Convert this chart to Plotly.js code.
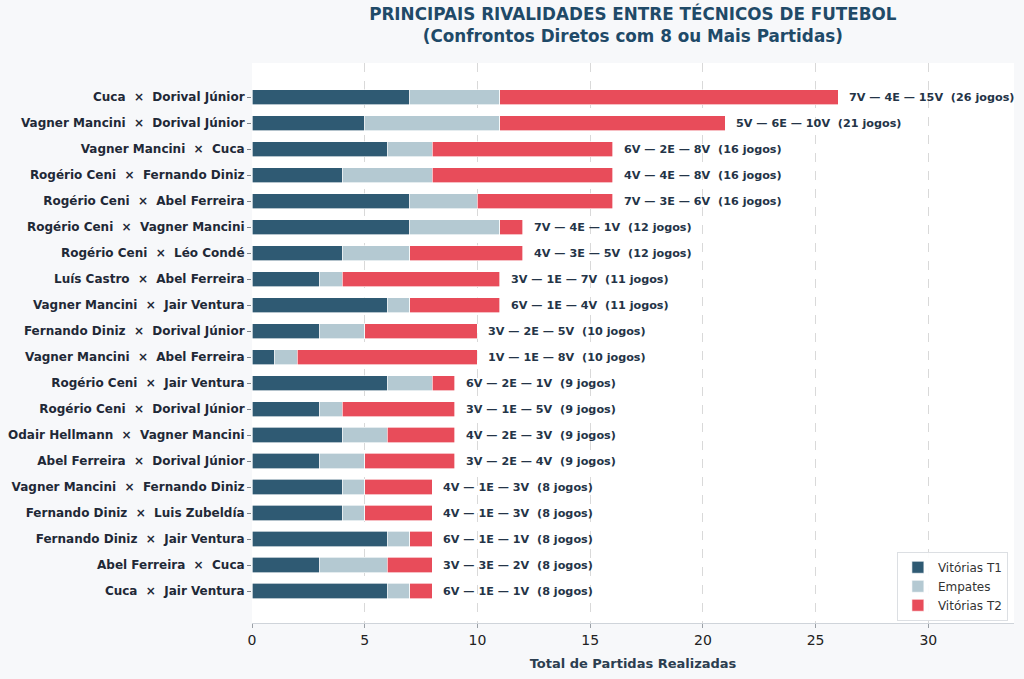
<!DOCTYPE html>
<html>
<head>
<meta charset="utf-8">
<script src="https://cdn.plot.ly/plotly-3.0.1.min.js"></script>
<style>
  body { margin: 0; background: #f7f8fa; }
  #graph { width: 1024px; height: 679px; }
</style>
</head>
<body>
<div id="graph"></div>
<script>
let rivalries = [
    "Cuca  ×  Dorival Júnior",
    "Vagner Mancini  ×  Dorival Júnior",
    "Vagner Mancini  ×  Cuca",
    "Rogério Ceni  ×  Fernando Diniz",
    "Rogério Ceni  ×  Abel Ferreira",
    "Rogério Ceni  ×  Vagner Mancini",
    "Rogério Ceni  ×  Léo Condé",
    "Luís Castro  ×  Abel Ferreira",
    "Vagner Mancini  ×  Jair Ventura",
    "Fernando Diniz  ×  Dorival Júnior",
    "Vagner Mancini  ×  Abel Ferreira",
    "Rogério Ceni  ×  Jair Ventura",
    "Rogério Ceni  ×  Dorival Júnior",
    "Odair Hellmann  ×  Vagner Mancini",
    "Abel Ferreira  ×  Dorival Júnior",
    "Vagner Mancini  ×  Fernando Diniz",
    "Fernando Diniz  ×  Luis Zubeldía",
    "Fernando Diniz  ×  Jair Ventura",
    "Abel Ferreira  ×  Cuca",
    "Cuca  ×  Jair Ventura"
];
let winsT1 = [7, 5, 6, 4, 7, 7, 4, 3, 6, 3, 1, 6, 3, 4, 3, 4, 4, 6, 3, 6];
let draws  = [4, 6, 2, 4, 3, 4, 3, 1, 1, 2, 1, 2, 1, 2, 2, 1, 1, 1, 3, 1];
let winsT2 = [15, 10, 8, 8, 6, 1, 5, 7, 4, 5, 8, 1, 5, 3, 4, 3, 3, 1, 2, 1];

// keep the double spaces around the ×
let labels = rivalries.map(s => s.replace(/ /g, "\u00a0"));

function plot() {
    let edge = { color: "rgba(255,255,255,0.8)", width: 0.8 };

    let t1 = {
        y: labels, x: winsT1,
        type: "bar", orientation: "h",
        name: "Vitórias T1",
        width: 0.58,
        marker: { color: "#2f5a73", line: edge },
        hoverinfo: "x+y"
    };
    let emp = {
        y: labels, x: draws,
        type: "bar", orientation: "h",
        name: "Empates",
        width: 0.58,
        marker: { color: "#b4c9d2", line: edge },
        hoverinfo: "x+y"
    };
    let t2 = {
        y: labels, x: winsT2,
        type: "bar", orientation: "h",
        name: "Vitórias T2",
        width: 0.58,
        marker: { color: "#e84c5a", line: edge },
        hoverinfo: "x+y"
    };

    let notes = labels.map((lab, i) => {
        let total = winsT1[i] + draws[i] + winsT2[i];
        return {
            x: total + 0.4, y: lab,
            xref: "x", yref: "y",
            text: winsT1[i] + "V — " + draws[i] + "E — " + winsT2[i] + "V\u00a0\u00a0(" + total + " jogos)",
            showarrow: false,
            xanchor: "left", yanchor: "middle",
            font: { family: "DejaVu Sans", size: 11.2, color: "#243447", weight: "bold" }
        };
    });

    let layout = {
        width: 1024, height: 679,
        paper_bgcolor: "#f7f8fa",
        plot_bgcolor: "#ffffff",
        barmode: "stack",
        margin: { l: 252, r: 10, t: 63, b: 56 },
        font: { family: "DejaVu Sans", color: "#222" },
        title: {
            text: "<b>PRINCIPAIS RIVALIDADES ENTRE TÉCNICOS DE FUTEBOL<br>(Confrontos Diretos com 8 ou Mais Partidas)</b>",
            font: { family: "DejaVu Sans", size: 16.8, color: "#1f4a68" },
            x: 0.618, xanchor: "center",
            y: 0.97, yanchor: "top"
        },
        xaxis: {
            range: [0, 33.8],
            tickvals: [0, 5, 10, 15, 20, 25, 30],
            showgrid: true,
            gridcolor: "rgba(0,0,0,0.15)",
            griddash: "dash",
            gridwidth: 1,
            layer: "above traces",
            zeroline: false,
            showline: true,
            linecolor: "#cfd4da",
            linewidth: 1,
            ticks: "outside",
            ticklen: 4,
            tickcolor: "#9aa0a6",
            tickfont: { family: "DejaVu Sans", size: 14, color: "#222" },
            title: {
                text: "<b>Total de Partidas Realizadas</b>",
                font: { family: "DejaVu Sans", size: 13, color: "#2c3e50" },
                standoff: 12
            }
        },
        yaxis: {
            type: "category",
            range: [20.23, -1.31],
            showgrid: false,
            zeroline: false,
            showline: false,
            ticks: "outside",
            ticklen: 4,
            tickcolor: "#7a8087",
            tickfont: { family: "DejaVu Sans", size: 12, color: "#1f2937", weight: "bold" }
        },
        legend: {
            x: 0.992, y: 0.004,
            xanchor: "right", yanchor: "bottom",
            bgcolor: "rgba(255,255,255,0.9)",
            bordercolor: "#dcdfe3",
            borderwidth: 1,
            traceorder: "normal",
            itemwidth: 30,
            font: { family: "DejaVu Sans", size: 12, color: "#333" }
        },
        annotations: notes,
        showlegend: true
    };

    Plotly.newPlot("graph", [t1, emp, t2], layout, { displayModeBar: false });
}

plot();
</script>
</body>
</html>
